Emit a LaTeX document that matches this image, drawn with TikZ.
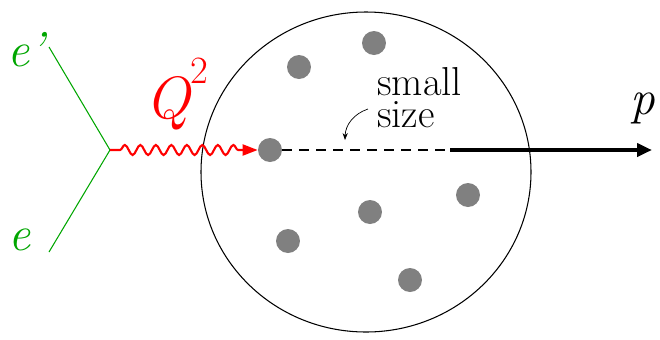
\documentclass[tikz,border=0pt]{standalone}
\usetikzlibrary{arrows.meta,positioning,decorations.pathmorphing}

\begin{document}
\begin{tikzpicture}[
        x=0.02cm, y=-0.02cm,
        parton/.style={circle, fill=black!50, inner sep=0pt, minimum size=0.48cm},
        lep/.style={green!65!black, line width=0.6pt},
        lbl/.style={font=\fontsize{28}{28}\selectfont\itshape, inner sep=0pt}
    ]
        \useasboundingbox (0,0) rectangle (660,339);
        % proton
        \draw[line width=0.6pt] (366,172) ellipse [x radius=165, y radius=160];
        \node[parton] (p1) at (374,43) {};
        \node[parton] (p2) at (299,67) {};
        \node[parton] (hit) at (270,150) {};
        \node[parton] (p4) at (468,195) {};
        \node[parton] (p5) at (370,212) {};
        \node[parton] (p6) at (288,241) {};
        \node[parton] (p7) at (410,280) {};
        % lepton vertex
        \coordinate (vtx) at (110,150);
        \coordinate (ein) at (49,252);
        \coordinate (eout) at (49,47);
        \draw[lep] (ein) -- (vtx) -- (eout);
        \node[lbl, green!65!black] (elab) at (20,240) {e};
        \node[lbl, green!65!black] (eplab) at (26,50) {e'};
        % photon
        \draw[red, line width=1.2pt, -{Triangle[length=0.3cm, width=0.22cm]},
              decorate, decoration={snake, amplitude=0.1cm, segment length=0.31cm, pre length=0.2cm, post length=0.35cm}]
              (vtx) -- (hit);
        \node[lbl, red, font=\fontsize{34}{34}\selectfont\itshape] (qlab) at (177,94) {Q\raisebox{0.6em}{\upshape\fontsize{22}{22}\selectfont 2}};
        % outgoing proton
        \coordinate (split) at (450,150);
        \coordinate (pend) at (652,150);
        \draw[line width=1pt, dash pattern=on 0.2cm off 0.14cm] (hit) -- (split);
        \draw[line width=2.4pt, -{Triangle[length=0.3cm, width=0.26cm]}] (split) -- (pend);
        \node[lbl] (plab) at (643,108) {p};
        \node[align=left, inner sep=0pt, anchor=north west, font=\fontsize{23}{18.5}\selectfont] (size) at (377,67) {small\\size};
        \draw[-{Stealth[length=0.14cm]}] (368,109) to[bend right=35] (345,140);
    \end{tikzpicture}
\end{document}
